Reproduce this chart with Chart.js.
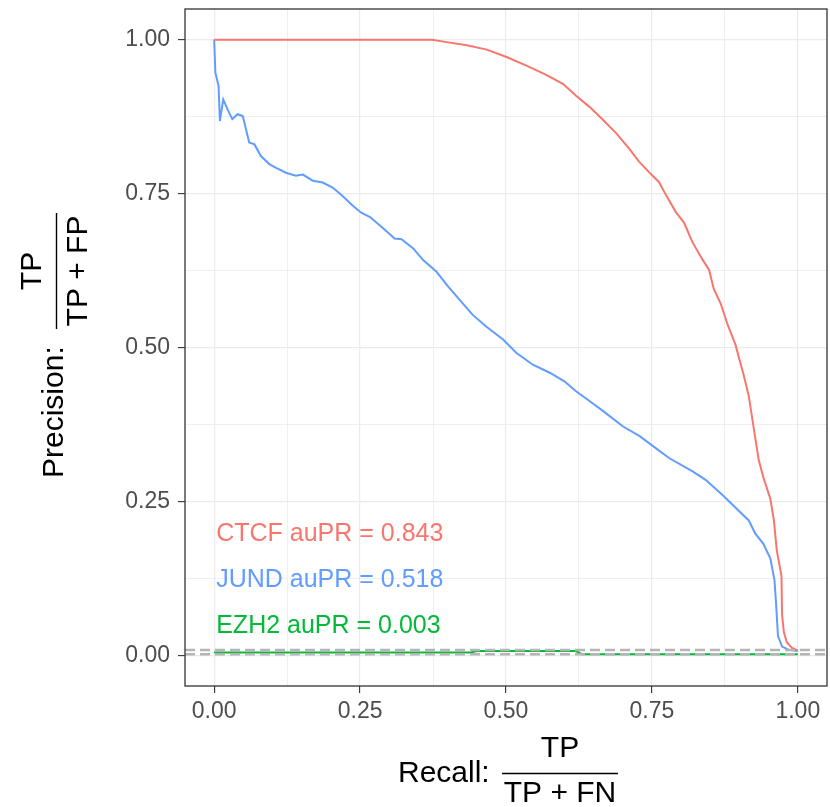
<!DOCTYPE html>
<html>
<head>
<meta charset="utf-8">
<script src="https://cdn.jsdelivr.net/npm/chart.js@4"></script>
<style>
  body { margin: 0; background: #fff; }
  canvas { display: block; }
</style>
</head>
<body>
<canvas id="prChart" width="830" height="807"></canvas>
<script>
// axis ticks (minor ones get a gridline but no label)
const tickValues = [0, 0.125, 0.25, 0.375, 0.5, 0.625, 0.75, 0.875, 1];

// CTCF curve
const ctcfRecall = [0, 0.319, 0.373, 0.393, 0.433, 0.467, 0.501, 0.535, 0.569, 0.598, 0.620, 0.643, 0.666, 0.689, 0.711, 0.728,
  0.745, 0.762, 0.774, 0.791, 0.805, 0.819, 0.836, 0.848, 0.856, 0.868, 0.879, 0.893, 0.907, 0.916, 0.924, 0.933, 0.941,
  0.953, 0.959, 0.964, 0.972, 0.973, 0.976, 0.981, 0.990, 1.0];
const ctcfPrecision = [1.0, 1.0, 1.0, 0.997, 0.991, 0.984, 0.972, 0.958, 0.943, 0.928, 0.909, 0.891, 0.870, 0.848, 0.823, 0.802,
  0.785, 0.769, 0.748, 0.720, 0.703, 0.672, 0.644, 0.626, 0.595, 0.571, 0.539, 0.505, 0.456, 0.421, 0.372, 0.317, 0.289,
  0.254, 0.219, 0.170, 0.129, 0.066, 0.038, 0.021, 0.012, 0.008];

// JUND curve
const jundRecall = [0, 0.002, 0.0075, 0.0098, 0.0155, 0.023, 0.031, 0.040, 0.049, 0.060, 0.069, 0.080, 0.0945, 0.106, 0.123,
  0.140, 0.152, 0.169, 0.186, 0.203, 0.220, 0.238, 0.252, 0.267, 0.289, 0.309, 0.321, 0.341, 0.358, 0.381, 0.401, 0.421,
  0.443, 0.466, 0.495, 0.518, 0.546, 0.575, 0.600, 0.620, 0.643, 0.666, 0.700, 0.729, 0.760, 0.780, 0.819, 0.842, 0.870,
  0.893, 0.916, 0.927, 0.941, 0.953, 0.960, 0.963, 0.966, 0.973, 0.984, 1.0];
const jundPrecision = [1.0, 0.947, 0.925, 0.868, 0.903, 0.887, 0.871, 0.879, 0.876, 0.833, 0.830, 0.811, 0.798, 0.792, 0.784,
  0.779, 0.781, 0.771, 0.768, 0.760, 0.746, 0.730, 0.719, 0.712, 0.694, 0.677, 0.676, 0.661, 0.642, 0.623, 0.599, 0.577,
  0.553, 0.534, 0.513, 0.491, 0.472, 0.459, 0.445, 0.429, 0.413, 0.397, 0.372, 0.356, 0.334, 0.320, 0.299, 0.285, 0.261,
  0.240, 0.219, 0.198, 0.181, 0.157, 0.122, 0.080, 0.031, 0.014, 0.009, 0.007];

// EZH2 curve (hugs the floor)
const ezh2Recall = [0, 0.1, 0.2, 0.3, 0.44, 0.45, 0.62, 0.63, 0.8, 0.9, 1.0];
const ezh2Precision = [0.0044, 0.0044, 0.0044, 0.0044, 0.0044, 0.0068, 0.0068, 0.0016, 0.0016, 0.0016, 0.0016];

// random-classifier baselines (dashed)
const baselineLevels = [0.0086, 0.0016];

const seriesNames = ['CTCF', 'JUND', 'EZH2'];
const seriesColors = ['#F8766D', '#619CFF', '#00BA38'];
const auprText = ['CTCF auPR = 0.843', 'JUND auPR = 0.518', 'EZH2 auPR = 0.003'];
const auprY = [0.2, 0.125, 0.05];

function toPoints(xs, ys) {
  return xs.map((x, i) => ({ x: x, y: ys[i] }));
}
function isMajor(v) {
  return Math.abs(v * 4 - Math.round(v * 4)) < 1e-9;
}

Chart.defaults.font.family = "'Liberation Sans', Arial, sans-serif";

const curves = [
  toPoints(ctcfRecall, ctcfPrecision),
  toPoints(jundRecall, jundPrecision),
  toPoints(ezh2Recall, ezh2Precision)
];

const datasets = [];
baselineLevels.forEach(level => {
  datasets.push({
    label: 'baseline',
    data: [{ x: -0.05, y: level }, { x: 1.05, y: level }],
    borderColor: '#B5B5B5',
    borderWidth: 2.6,
    borderDash: [10, 5],
    pointRadius: 0,
    showLine: true
  });
});
curves.forEach((pts, i) => {
  datasets.push({
    label: seriesNames[i],
    data: pts,
    borderColor: seriesColors[i],
    borderWidth: 2,
    pointRadius: 0,
    showLine: true,
    tension: 0
  });
});

// panel frame, auPR labels and the fraction-style axis titles
const extras = {
  id: 'extras',
  afterDraw(chart) {
    const ctx = chart.ctx;
    const a = chart.chartArea;
    const xs = chart.scales.x, ys = chart.scales.y;
    ctx.save();
    ctx.strokeStyle = '#333333';
    ctx.lineWidth = 1.3;
    ctx.strokeRect(a.left, a.top, a.right - a.left, a.bottom - a.top);

    ctx.font = "25px 'Liberation Sans', Arial, sans-serif";
    ctx.textAlign = 'left';
    ctx.textBaseline = 'middle';
    auprText.forEach((t, i) => {
      ctx.fillStyle = seriesColors[i];
      ctx.fillText(t, xs.getPixelForValue(0) + 2, ys.getPixelForValue(auprY[i]) + 2);
    });

    ctx.fillStyle = '#000';
    ctx.strokeStyle = '#000';
    ctx.lineWidth = 1.4;
    ctx.font = "30px 'Liberation Sans', Arial, sans-serif";
    ctx.textBaseline = 'alphabetic';

    // x title
    ctx.textAlign = 'left';
    ctx.fillText('Recall:', 398, 782);
    ctx.beginPath();
    ctx.moveTo(502, 773.5);
    ctx.lineTo(618, 773.5);
    ctx.stroke();
    ctx.textAlign = 'center';
    ctx.fillText('TP', 560, 757);
    ctx.fillText('TP + FN', 560, 802);

    // y title
    ctx.save();
    ctx.translate(63, 478);
    ctx.rotate(-Math.PI / 2);
    ctx.textAlign = 'left';
    ctx.fillText('Precision:', 0, 0);
    ctx.restore();
    ctx.beginPath();
    ctx.moveTo(56.5, 329);
    ctx.lineTo(56.5, 213);
    ctx.stroke();
    ctx.save();
    ctx.translate(41, 271);
    ctx.rotate(-Math.PI / 2);
    ctx.textAlign = 'center';
    ctx.fillText('TP', 0, 0);
    ctx.restore();
    ctx.save();
    ctx.translate(87, 271);
    ctx.rotate(-Math.PI / 2);
    ctx.textAlign = 'center';
    ctx.fillText('TP + FP', 0, 0);
    ctx.restore();

    ctx.restore();
  }
};

const gridOpts = {
  color: '#EBEBEB',
  lineWidth: c => (c.tick && isMajor(c.tick.value)) ? 1.2 : 0.8,
  tickColor: c => (c.tick && isMajor(c.tick.value)) ? '#333333' : 'rgba(0,0,0,0)',
  tickWidth: 1.1,
  tickLength: 7,
  drawTicks: true
};

new Chart(document.getElementById('prChart'), {
  type: 'scatter',
  data: { datasets: datasets },
  options: {
    responsive: false,
    animation: false,
    layout: { padding: { top: 9, right: 3, left: 0, bottom: 0 } },
    plugins: { legend: { display: false }, tooltip: { enabled: false } },
    scales: {
      x: {
        type: 'linear',
        min: -0.05,
        max: 1.05,
        afterBuildTicks: s => { s.ticks = tickValues.map(v => ({ value: v })); },
        afterFit: s => { s.height = 121; s.paddingLeft = 0; s.paddingRight = 0; },
        grid: gridOpts,
        border: { display: false },
        ticks: {
          autoSkip: false,
          maxRotation: 0,
          padding: 5,
          color: '#4D4D4D',
          font: { size: 23 },
          callback: v => isMajor(v) ? v.toFixed(2) : ''
        }
      },
      y: {
        type: 'linear',
        min: -0.05,
        max: 1.05,
        afterBuildTicks: s => { s.ticks = tickValues.map(v => ({ value: v })); },
        afterFit: s => { s.width = 185; s.paddingTop = 0; s.paddingBottom = 0; },
        grid: gridOpts,
        border: { display: false },
        ticks: {
          autoSkip: false,
          padding: 8,
          color: '#4D4D4D',
          font: { size: 23 },
          callback: v => isMajor(v) ? v.toFixed(2) : ''
        }
      }
    }
  },
  plugins: [extras]
});
</script>
</body>
</html>
